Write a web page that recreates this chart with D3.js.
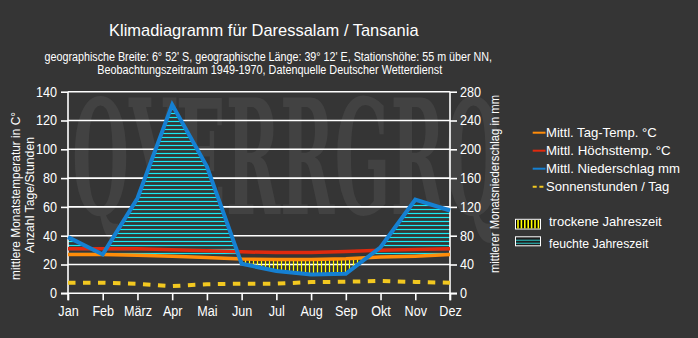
<!DOCTYPE html>
<html>
<head>
<meta charset="utf-8">
<script src="https://cdn.jsdelivr.net/npm/d3@7/dist/d3.min.js"></script>
<style>
  html, body { margin: 0; padding: 0; background: #353535; }
  svg { display: block; }
  text { font-family: "Liberation Sans", Arial, sans-serif; fill: #ffffff; }
</style>
</head>
<body>
<svg id="chart" width="698" height="338"></svg>
<script>
// Klimadaten Daressalam (Monatswerte)
const months    = ["Jan", "Feb", "März", "Apr", "Mai", "Jun", "Jul", "Aug", "Sep", "Okt", "Nov", "Dez"];
const meanTemp  = [27, 27, 26.5, 25.8, 24.8, 23.8, 23.5, 23.5, 24, 25.2, 25.8, 26.9];   // °C
const maxTemp   = [31, 31, 31, 30.2, 29.5, 28.8, 28.3, 28.3, 29, 29.9, 30.5, 31];       // °C
const precip    = [78, 54, 132, 262, 176, 41, 31, 26, 27, 64, 130, 115];                // mm
const sunshine  = [7.4, 7.4, 6.6, 5.0, 6.3, 6.7, 6.7, 7.8, 8.0, 8.6, 7.9, 7.3];        // h / Tag
const tempTicks   = [0, 20, 40, 60, 80, 100, 120, 140];
const precipTicks = [0, 40, 80, 120, 160, 200, 240, 280];

const BG = "#353535";
const svg = d3.select("#chart");
svg.append("rect").attr("width", 698).attr("height", 338).attr("fill", BG);

const plotLeft = 68, plotRight = 450, plotBottom = 293.3, plotTop = 91.7;
const x  = d3.scalePoint().domain(months).range([plotLeft, plotRight]);
const xi = d3.scaleLinear().domain([0, months.length - 1]).range([plotLeft, plotRight]);
const yT = d3.scaleLinear().domain([0, 140]).range([plotBottom, plotTop]);
const yP = d3.scaleLinear().domain([0, 280]).range([plotBottom, plotTop]);

// Wasserzeichen (hoch gestreckte Schrift)
const wm = svg.append("text")
  .style("font-family", "'DejaVu Serif', serif").style("font-weight", "bold")
  .style("font-size", "60px").style("fill", "#424242")
  .text("QYERRGRQ");
const wmLen = wm.node().getComputedTextLength();
wm.attr("transform", `translate(72,214) scale(${430 / wmLen},2.65)`);

// Schraffurmuster
const defs = svg.append("defs");
const wet = defs.append("pattern").attr("id", "wetHatch")
  .attr("patternUnits", "userSpaceOnUse").attr("width", 8).attr("height", 4);
wet.append("rect").attr("width", 8).attr("height", 4).attr("fill", BG);
wet.append("line").attr("x1", 0).attr("x2", 8).attr("y1", 1.5).attr("y2", 1.5)
  .attr("stroke", "#18e8f2").attr("stroke-width", 1.2);
const dry = defs.append("pattern").attr("id", "dryHatch")
  .attr("patternUnits", "userSpaceOnUse").attr("width", 4).attr("height", 8);
dry.append("line").attr("x1", 1.5).attr("x2", 1.5).attr("y1", 0).attr("y2", 8)
  .attr("stroke", "#ffff00").attr("stroke-width", 1.2);

// Gitterlinien
svg.append("g").selectAll("line").data(tempTicks.filter(d => d > 0)).join("line")
  .attr("x1", plotLeft).attr("x2", plotRight)
  .attr("y1", d => yT(d)).attr("y2", d => yT(d))
  .attr("stroke", "#ffffff").attr("stroke-width", 1.6);

// Humide / aride Flächen: Niederschlag (mm/2) gegen Mitteltemperatur
const pts = [];
for (let i = 0; i < months.length; i++) {
  const p = precip[i] / 2, t = meanTemp[i];
  pts.push({ i, p, t });
  if (i < months.length - 1) {
    const d0 = p - t, d1 = precip[i + 1] / 2 - meanTemp[i + 1];
    if (d0 * d1 < 0) {
      const f = d0 / (d0 - d1);
      pts.push({ i: i + f, p: p + f * (precip[i + 1] / 2 - p), t: t + f * (meanTemp[i + 1] - t) });
    }
  }
}
svg.append("path").datum(pts)
  .attr("fill", "url(#wetHatch)")
  .attr("d", d3.area().x(d => xi(d.i)).y0(d => yT(d.t)).y1(d => yT(Math.max(d.p, d.t))));
svg.append("path").datum(pts)
  .attr("fill", "url(#dryHatch)")
  .attr("d", d3.area().x(d => xi(d.i)).y0(d => yT(Math.min(d.p, d.t))).y1(d => yT(d.t)));

// Achsen
const styleAxis = g => {
  g.selectAll("path.domain").remove();
  g.selectAll("line").attr("stroke", "#ffffff").attr("stroke-width", 1.6);
  g.selectAll("text").style("font-size", "14px").attr("fill", "#ffffff");
};
svg.append("g").attr("class", "tickAxis").attr("transform", `translate(${plotLeft},0)`)
  .call(d3.axisLeft(yT).tickValues(tempTicks).tickSize(7).tickPadding(4))
  .call(styleAxis);
svg.append("g").attr("class", "tickAxis").attr("transform", `translate(${plotRight},0)`)
  .call(d3.axisRight(yP).tickValues(precipTicks).tickSize(7).tickPadding(3))
  .call(styleAxis);
svg.append("g").attr("class", "tickAxis").attr("transform", `translate(0,${plotBottom})`)
  .call(d3.axisBottom(x).tickSize(7).tickPadding(6))
  .call(styleAxis);
// Achslinien
svg.append("line").attr("x1", plotLeft).attr("x2", plotLeft).attr("y1", plotTop).attr("y2", plotBottom + 7)
  .attr("stroke", "#fff").attr("stroke-width", 1.6);
svg.append("line").attr("x1", plotRight).attr("x2", plotRight).attr("y1", plotTop).attr("y2", plotBottom + 7)
  .attr("stroke", "#fff").attr("stroke-width", 1.6);
svg.append("line").attr("x1", plotLeft - 7).attr("x2", plotRight + 7).attr("y1", plotBottom).attr("y2", plotBottom)
  .attr("stroke", "#fff").attr("stroke-width", 1.6);

// Kurven
const lineT = d3.line().x((d, i) => x(months[i])).y(d => yT(d));
const lineP = d3.line().x((d, i) => x(months[i])).y(d => yP(d));
svg.append("path").datum(maxTemp).attr("d", lineT)
  .attr("fill", "none").attr("stroke", "#e02a0e").attr("stroke-width", 3.5);
svg.append("path").datum(meanTemp).attr("d", lineT)
  .attr("fill", "none").attr("stroke", "#ff8c0a").attr("stroke-width", 3.5);
svg.append("path").datum(precip).attr("d", lineP)
  .attr("fill", "none").attr("stroke", "#1580d2").attr("stroke-width", 4)
  .attr("stroke-linejoin", "miter");
svg.append("path").datum(sunshine).attr("d", lineT)
  .attr("fill", "none").attr("stroke", "#f2c820").attr("stroke-width", 4)
  .attr("stroke-dasharray", "7.5,7.5");

// Texte
const addText = (x0, y0, str, size, width, anchor, rot) => {
  const t = svg.append("text")
    .attr("text-anchor", anchor || "middle")
    .style("font-size", size + "px")
    .text(str);
  if (rot) t.attr("transform", `translate(${x0},${y0}) rotate(-90)`);
  else t.attr("x", x0).attr("y", y0);
  if (width) t.attr("textLength", width).attr("lengthAdjust", "spacingAndGlyphs");
  return t;
};
addText(263.8, 35.5, "Klimadiagramm für Daressalam / Tansania", 17, 309.5);
addText(268.3, 60.5, "geographische Breite: 6° 52' S, geographische Länge: 39° 12' E, Stationshöhe: 55 m über NN,", 12, 447.5);
addText(269.7, 73.8, "Beobachtungszeitraum 1949-1970, Datenquelle Deutscher Wetterdienst", 12, 345);

addText(20, 196, "mittlere Monatstemperatur in C°", 12, 168, "middle", true);
addText(34, 195, "Anzahl Tage/Stunden", 12, 116, "middle", true);
addText(498.5, 184, "mittlerer Monatsniederschlag in mm", 12, 178, "middle", true);

// Legende
const legendItems = [
  { label: "Mittl. Tag-Temp. °C",     color: "#ff8c0a", dash: null,  w: 110.7 },
  { label: "Mittl. Höchsttemp. °C",   color: "#e02a0e", dash: null,  w: 124.7 },
  { label: "Mittl. Niederschlag mm",  color: "#1580d2", dash: null,  w: 134 },
  { label: "Sonnenstunden / Tag",     color: "#f2c820", dash: "4,2.7", w: 123.3 }
];
legendItems.forEach((d, k) => {
  const yb = 137.3 + k * 18;
  svg.append("line").attr("x1", 532.7).attr("x2", 545.5).attr("y1", yb - 4.6).attr("y2", yb - 4.6)
    .attr("stroke", d.color).attr("stroke-width", 2).attr("stroke-dasharray", d.dash);
  addText(546, yb, d.label, 13, d.w, "start");
});

// Jahreszeiten-Symbole
svg.append("rect").attr("x", 515.5).attr("y", 219.3).attr("width", 25).attr("height", 9.7)
  .attr("fill", "#000").attr("stroke", "#fff").attr("stroke-width", 1);
svg.append("g").selectAll("line").data(d3.range(7)).join("line")
  .attr("x1", k => 518 + k * 3.4).attr("x2", k => 518 + k * 3.4)
  .attr("y1", 220).attr("y2", 228.5)
  .attr("stroke", "#ffff00").attr("stroke-width", 1.6);
addText(549, 225.5, "trockene Jahreszeit", 13, 112.7, "start");

svg.append("rect").attr("x", 515.5).attr("y", 236.8).attr("width", 25).attr("height", 9)
  .attr("fill", "#1e1e1e").attr("stroke", "#fff").attr("stroke-width", 1);
[240.3, 243.3].forEach(yy => svg.append("line")
  .attr("x1", 516).attr("x2", 540).attr("y1", yy).attr("y2", yy)
  .attr("stroke", "#2aa0a0").attr("stroke-width", 1.3));
addText(549, 247.5, "feuchte Jahreszeit", 13, 99.3, "start");

// Achsbeschriftungen leicht schmaler setzen
svg.selectAll(".tickAxis text").each(function () {
  const len = this.getComputedTextLength();
  d3.select(this).attr("textLength", len * 0.9).attr("lengthAdjust", "spacingAndGlyphs");
});
</script>
</body>
</html>
